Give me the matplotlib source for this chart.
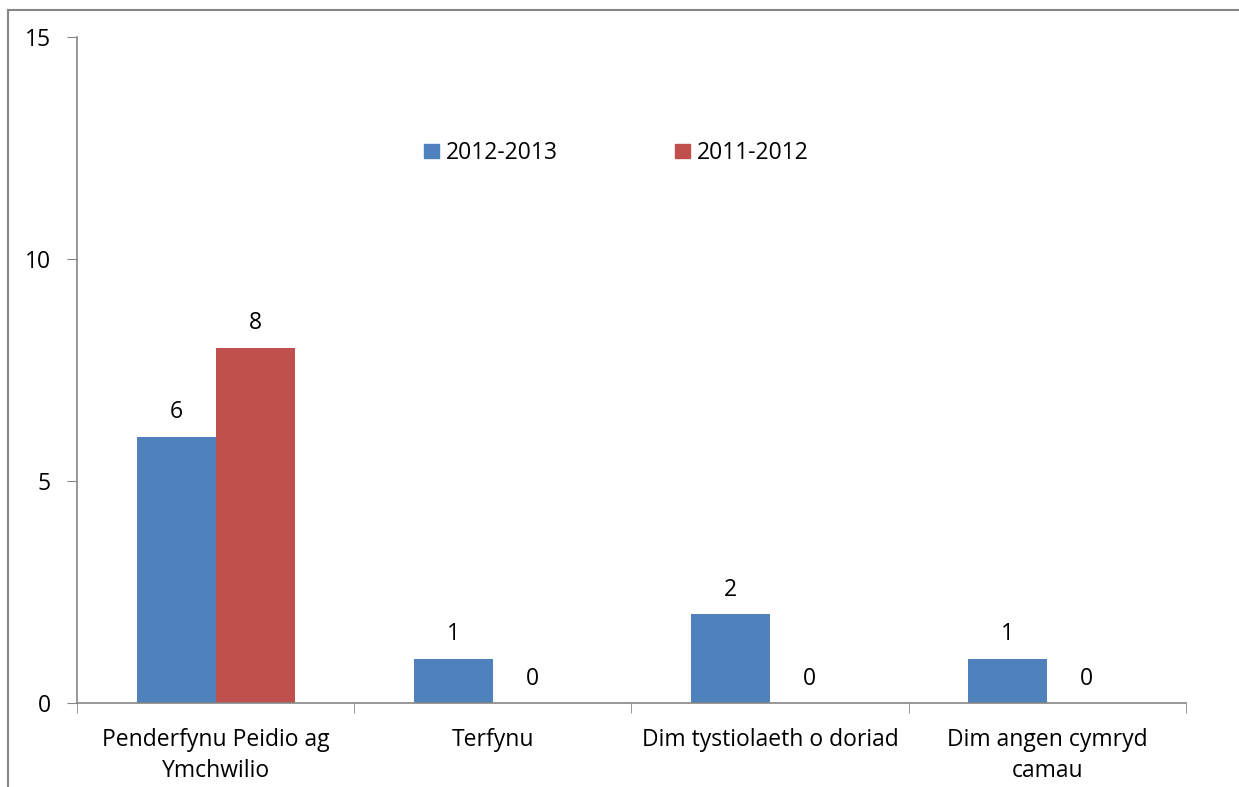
import numpy as np
import matplotlib
matplotlib.use("Agg")
import matplotlib.pyplot as plt
from matplotlib.lines import Line2D
from matplotlib.patches import Patch

categories = ["Penderfynu Peidio ag\nYmchwilio", "Terfynu",
              "Dim tystiolaeth o doriad", "Dim angen cymryd\ncamau"]
series_names = ["2012-2013", "2011-2012"]
vals_2012_13 = [6, 1, 2, 1]
vals_2011_12 = [8, 0, 0, 0]
yticks = [0, 5, 10, 15]

BLUE = "#4F81BD"
RED = "#C0504D"
GRAY = "#868686"
FS = 16.5

plt.rcParams["font.family"] = ["Open Sans", "DejaVu Sans"]

fig = plt.figure(figsize=(12.39, 7.87), dpi=100)
ax = fig.add_axes([0.0621, 0.1067, 0.8951, 0.8463])

x = np.arange(len(categories))
w = 0.285
b1 = ax.bar(x - w / 2, vals_2012_13, w, color=BLUE, label=series_names[0])
b2 = ax.bar(x + w / 2, vals_2011_12, w, color=RED, label=series_names[1])

# value labels above each bar
for bars, vals in [(b1, vals_2012_13), (b2, vals_2011_12)]:
    for r, v in zip(bars, vals):
        ax.annotate(str(v), (r.get_x() + r.get_width() / 2, v),
                    xytext=(0, 9), textcoords="offset points",
                    ha="center", va="bottom", fontsize=FS)

ax.set_xlim(-0.5, len(categories) - 0.5)
ax.set_ylim(0, 15)
ax.set_yticks(yticks)
ax.set_xticks(x)
ax.set_xticklabels(categories, fontsize=FS, linespacing=1.4)
ax.set_xticks(np.arange(-0.5, len(categories)), minor=True)
ax.tick_params(axis="x", which="major", length=0, pad=18)
ax.tick_params(axis="x", which="minor", length=7, color=GRAY, direction="out")
ax.tick_params(axis="y", length=7, color=GRAY, labelsize=FS, pad=12)

for s in ["top", "right"]:
    ax.spines[s].set_visible(False)
for s in ["left", "bottom"]:
    ax.spines[s].set_color(GRAY)
    ax.spines[s].set_linewidth(1.2)

handles = [Patch(color=BLUE), Patch(color=RED)]
fig.legend(handles, series_names, loc="center", bbox_to_anchor=(0.4975, 0.8056),
           ncol=2, frameon=False, fontsize=FS, handlelength=0.62,
           handleheight=0.62, handletextpad=0.3, columnspacing=5.15)

# chart area border
fig.add_artist(Line2D([0.0065, 0.0065], [0, 0.987], color=GRAY, lw=1.5))
fig.add_artist(Line2D([0.0065, 1.0], [0.987, 0.987], color=GRAY, lw=1.5))

fig.savefig("out.png", dpi=100)
